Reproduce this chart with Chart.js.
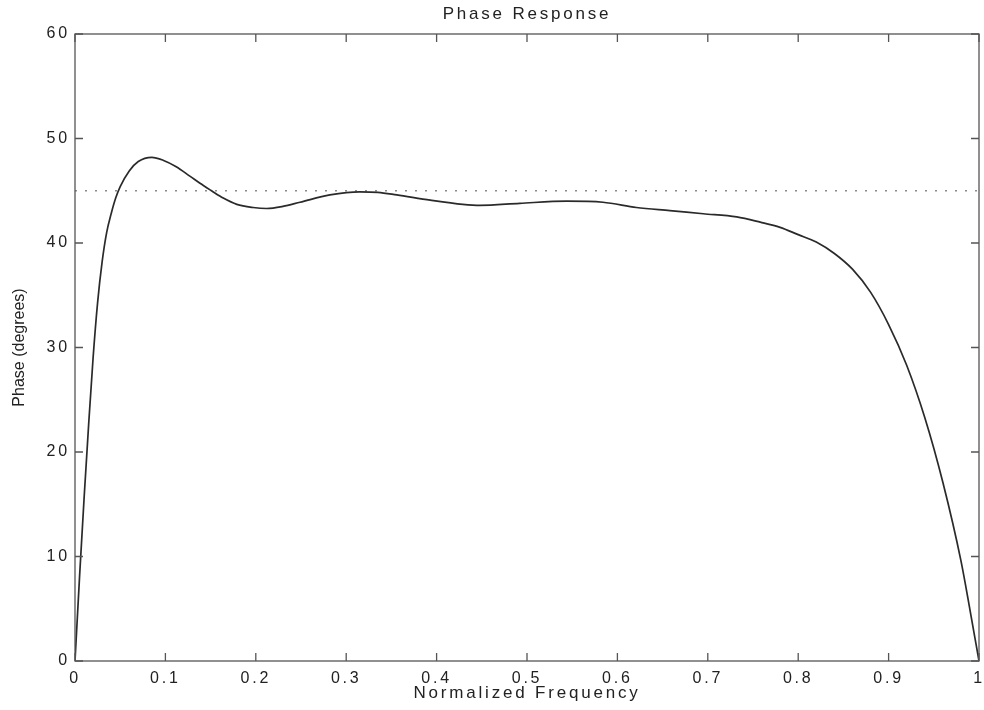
<!DOCTYPE html>
<html><head><meta charset="utf-8">
<script src="https://cdn.jsdelivr.net/npm/chart.js@4.4.1/dist/chart.umd.min.js"></script>
<style>html,body{margin:0;padding:0;background:#fff}</style>
</head><body>
<canvas id="c" width="984" height="710"></canvas>
<script>
// ---- data ----
const freq = [0, 0.005, 0.010, 0.015, 0.020, 0.025, 0.030, 0.035, 0.040, 0.045, 0.050, 0.060, 0.070, 0.085, 0.098, 0.112, 0.127, 0.142, 0.151, 0.164, 0.179, 0.197, 0.212, 0.230, 0.249, 0.282, 0.315, 0.335, 0.356, 0.393, 0.429, 0.448, 0.492, 0.544, 0.584, 0.621, 0.658, 0.695, 0.732, 0.758, 0.780, 0.800, 0.820, 0.840, 0.860, 0.880, 0.900, 0.920, 0.940, 0.960, 0.980, 0.990, 1.0];
const phase = [0, 8, 15.5, 22.5, 29, 34.3, 38.2, 41.0, 42.8, 44.3, 45.4, 46.9, 47.8, 48.2, 47.9, 47.3, 46.4, 45.5, 45.0, 44.3, 43.7, 43.4, 43.3, 43.5, 43.9, 44.6, 44.9, 44.85, 44.6, 44.1, 43.7, 43.6, 43.8, 44.0, 43.9, 43.4, 43.1, 42.8, 42.5, 42.0, 41.5, 40.8, 40.1, 39.0, 37.5, 35.3, 32.2, 28.3, 23.3, 17.1, 9.6, 4.9, 0];
const refFreq = [0, 1];
const refPhase = [45, 45];
const xTickLabels = ['0','0.1','0.2','0.3','0.4','0.5','0.6','0.7','0.8','0.9','1'];
const yTickLabels = ['0','10','20','30','40','50','60'];
const chartTitle = 'Phase Response';
const xTitle = 'Normalized Frequency';
const yTitle = 'Phase (degrees)';

const FONT = '"Liberation Sans", Arial, Helvetica, sans-serif';
const LS = '2.8px';

const spacing = {
  id: 'spacing',
  beforeUpdate(chart){ chart.ctx.letterSpacing = LS; },
  beforeLayout(chart){ chart.ctx.letterSpacing = LS; },
  beforeDraw(chart){
    chart.ctx.letterSpacing = LS;
    const s = chart.scales.y;
    if (s && !s._lsPatched) {
      const orig = s.drawTitle;
      s.drawTitle = function(){
        const c = this.ctx; const p = c.letterSpacing;
        c.letterSpacing = '0px'; orig.call(this); c.letterSpacing = p;
      };
      s._lsPatched = true;
    }
  }
};

const frame = {
  id: 'frame',
  afterDatasetsDraw(chart){
    const {ctx, chartArea, scales} = chart;
    const {left, right, top, bottom} = chartArea;
    const x = scales.x, y = scales.y;
    ctx.save();
    ctx.letterSpacing = '0px';
    ctx.strokeStyle = '#555';
    ctx.lineWidth = 1.3;
    ctx.strokeRect(left, top, right - left, bottom - top);
    const L = 8;
    ctx.beginPath();
    x.ticks.forEach(t => {
      const px = x.getPixelForValue(t.value);
      ctx.moveTo(px, bottom); ctx.lineTo(px, bottom - L);
      ctx.moveTo(px, top); ctx.lineTo(px, top + L);
    });
    y.ticks.forEach(t => {
      const py = y.getPixelForValue(t.value);
      ctx.moveTo(left, py); ctx.lineTo(left + L, py);
      ctx.moveTo(right, py); ctx.lineTo(right - L, py);
    });
    ctx.stroke();
    ctx.restore();
  }
};

new Chart(document.getElementById('c'), {
  type: 'line',
  data: {
    datasets: [
      {
        data: freq.map((f, i) => ({x: f, y: phase[i]})),
        borderColor: '#2a2a2a',
        borderWidth: 1.7,
        pointRadius: 0,
        cubicInterpolationMode: 'monotone',
        fill: false
      },
      {
        data: refFreq.map((f, i) => ({x: f, y: refPhase[i]})),
        borderColor: '#8a8a8a',
        borderWidth: 1.5,
        borderDash: [2, 8],
        pointRadius: 0,
        fill: false
      }
    ]
  },
  options: {
    responsive: false,
    animation: false,
    devicePixelRatio: 1,
    layout: {padding: {left: 0, right: 5, top: 0, bottom: 0}},
    plugins: {
      legend: {display: false},
      tooltip: {enabled: false},
      title: {
        display: true,
        text: chartTitle,
        fullSize: false,
        color: '#222',
        font: {family: FONT, size: 17, weight: 'normal'},
        padding: {top: 4, bottom: 9.6}
      }
    },
    scales: {
      x: {
        type: 'linear',
        min: 0, max: 1,
        grid: {display: false, drawTicks: false},
        border: {display: false},
        ticks: {
          stepSize: 0.1,
          autoSkip: false,
          maxRotation: 0,
          padding: 8,
          color: '#222',
          font: {family: FONT, size: 16},
          callback: (v, i) => xTickLabels[i]
        },
        title: {
          display: true,
          text: xTitle,
          color: '#222',
          font: {family: FONT, size: 17},
          padding: {top: 0, bottom: 6}
        },
        afterFit(scale){ scale.height = 49; scale.paddingLeft = 0; scale.paddingRight = 0; }
      },
      y: {
        min: 0, max: 60,
        grid: {display: false, drawTicks: false},
        border: {display: false},
        ticks: {
          stepSize: 10,
          padding: 5,
          color: '#222',
          font: {family: FONT, size: 16},
          callback: (v, i) => yTickLabels[i]
        },
        title: {
          display: true,
          text: yTitle,
          color: '#222',
          font: {family: FONT, size: 16},
          padding: {top: 10, bottom: 0}
        },
        afterFit(scale){ scale.width = 75; scale.paddingTop = 0; scale.paddingBottom = 0; }
      }
    }
  },
  plugins: [spacing, frame]
});
</script>
</body></html>
